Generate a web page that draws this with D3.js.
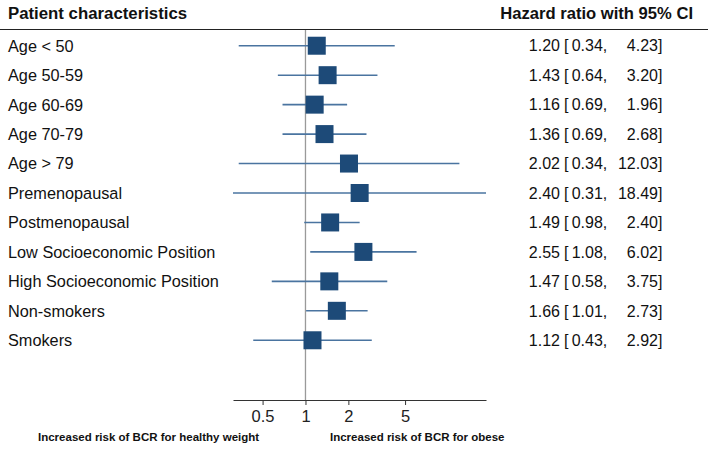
<!DOCTYPE html>
<html><head><meta charset="utf-8">
<script src="https://cdn.jsdelivr.net/npm/d3@7"></script>
<style>body{margin:0;background:#fff}svg{display:block;font-family:"Liberation Sans",Arial,sans-serif}</style>
</head><body><svg id="c" width="708" height="452"></svg>
<script>
const categories = ["Age < 50","Age 50-59","Age 60-69","Age 70-79","Age > 79","Premenopausal","Postmenopausal","Low Socioeconomic Position","High Socioeconomic Position","Non-smokers","Smokers"];
const hr    = [1.20,1.43,1.16,1.36,2.02,2.40,1.49,2.55,1.47,1.66,1.12];
const lower = [0.34,0.64,0.69,0.69,0.34,0.31,0.98,1.08,0.58,1.01,0.43];
const upper = [4.23,3.20,1.96,2.68,12.03,18.49,2.40,6.02,3.75,2.73,2.92];
const tickValues = [0.5,1,2,5];
const fmt = d3.format(".2f");

const svg = d3.select("#c");
const x = d3.scaleLog().domain([0.31,18.49]).range([233,486]);
const y = d3.scaleBand().domain(categories).range([31,355]).paddingInner(0).paddingOuter(0);
const yc = d => y(d) + y.bandwidth()/2;

// header
svg.append("text").attr("x",8).attr("y",19).attr("font-size",16.8).attr("font-weight","bold").attr("fill","#111").text("Patient characteristics");
svg.append("text").attr("x",693).attr("y",19).attr("text-anchor","end").attr("font-size",16.6).attr("font-weight","bold").attr("fill","#111").text("Hazard ratio with 95% CI");
svg.append("line").attr("x1",0).attr("x2",708).attr("y1",29.5).attr("y2",29.5).attr("stroke","#222").attr("stroke-width",1);

// reference line
svg.append("line").attr("x1",x(1)).attr("x2",x(1)).attr("y1",30).attr("y2",400).attr("stroke","#9a9a9a").attr("stroke-width",1.3);

// axis
const ax = svg.append("g").attr("transform","translate(0,400)")
  .call(d3.axisBottom(x).tickValues(tickValues).tickFormat(d3.format("")).tickSize(5).tickSizeOuter(0));
ax.select(".domain").attr("stroke","#333");
ax.selectAll(".tick line").attr("stroke","#333");
ax.selectAll(".tick text").attr("font-size",16.5).attr("fill","#222").attr("dy","0.85em").attr("font-family","Liberation Sans, Arial, sans-serif");

const rows = svg.append("g").selectAll("g").data(categories).join("g");
rows.append("text").attr("x",8).attr("y",d=>yc(d)).attr("dy","0.36em").attr("font-size",16.3).attr("fill","#111").text(d=>d);
rows.append("line").attr("x1",(d,i)=>x(lower[i])).attr("x2",(d,i)=>x(upper[i])).attr("y1",yc).attr("y2",yc).attr("stroke","#4a74a0").attr("stroke-width",1.6);
const ms = 18;
rows.append("rect").attr("x",(d,i)=>x(hr[i])-ms/2).attr("y",d=>yc(d)-ms/2).attr("width",ms).attr("height",ms).attr("fill","#1d4a78");

// right column
const fs = 16;
rows.append("text").attr("x",560).attr("y",d=>yc(d)).attr("dy","0.36em").attr("text-anchor","end").attr("font-size",fs).attr("fill","#111").text((d,i)=>fmt(hr[i]));
rows.append("text").attr("x",564).attr("y",d=>yc(d)).attr("dy","0.36em").attr("font-size",fs).attr("fill","#111").text((d,i)=>"[\u2009"+fmt(lower[i])+",");
rows.append("text").attr("x",658).attr("y",d=>yc(d)).attr("dy","0.36em").attr("text-anchor","end").attr("font-size",fs).attr("fill","#111").text((d,i)=>fmt(upper[i]));
rows.append("text").attr("x",658).attr("y",d=>yc(d)).attr("dy","0.36em").attr("font-size",fs).attr("fill","#111").text("]");

// footer
svg.append("text").attr("x",38).attr("y",441).attr("font-size",11.5).attr("font-weight","bold").attr("fill","#111").text("Increased risk of BCR for healthy weight");
svg.append("text").attr("x",330).attr("y",441).attr("font-size",11.5).attr("font-weight","bold").attr("fill","#111").text("Increased risk of BCR for obese");
</script></body></html>
